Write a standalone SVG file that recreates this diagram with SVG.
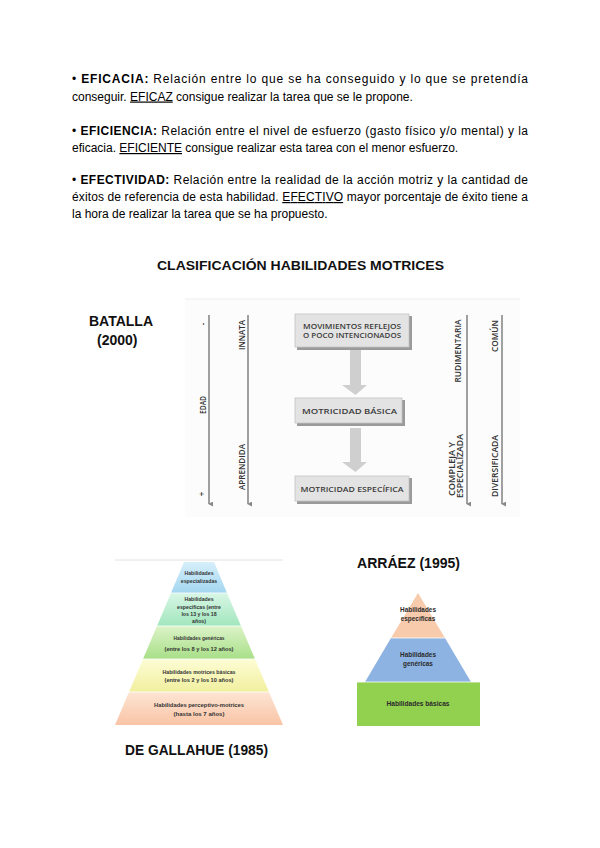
<svg xmlns="http://www.w3.org/2000/svg" width="600" height="848" viewBox="0 0 600 848">
<style>
.p{font-family:"Liberation Sans",Arial,sans-serif;font-size:12px;fill:#000}
.b{font-weight:bold}
.u{text-decoration:underline}
.h{font-family:"Liberation Sans",Arial,sans-serif;font-weight:bold;fill:#111}
.bx{font-family:"Open Sans","DejaVu Sans",sans-serif;font-size:7.8px;fill:#3a3a3a;text-anchor:middle;font-weight:600}
.rl{font-family:"Open Sans","DejaVu Sans",sans-serif;font-size:8px;fill:#333;text-anchor:middle;font-weight:600}
.vl{stroke:#888;stroke-width:1.6;fill:none}
.box{fill:#e3e3e3;stroke:#c4c4c4;stroke-width:0.8}
.sh{fill:#9a9a9a}
.ar{fill:#cfcfcf}
.g{font-family:"Liberation Sans",Arial,sans-serif;font-weight:bold;font-size:5.2px;fill:#333;text-anchor:middle}
.a{font-family:"Liberation Sans",Arial,sans-serif;font-weight:bold;font-size:6.4px;fill:#2a2a2a;text-anchor:middle}
.sep{stroke:#ffffff;stroke-width:0.8}
</style>
<defs>
<marker id="ah" viewBox="0 0 6 6" refX="3" refY="5" markerWidth="5" markerHeight="5" orient="auto-start-reverse" markerUnits="userSpaceOnUse">
<path d="M0,0 L3,6 L6,0 Z" fill="#888"/>
</marker>
<linearGradient id="g1" x1="0" y1="0" x2="0" y2="1"><stop offset="0" stop-color="#d6effb"/><stop offset="1" stop-color="#a3d6f0"/></linearGradient>
<linearGradient id="g2" x1="0" y1="0" x2="0" y2="1"><stop offset="0" stop-color="#d8f6e6"/><stop offset="1" stop-color="#a2e6bd"/></linearGradient>
<linearGradient id="g3" x1="0" y1="0" x2="0" y2="1"><stop offset="0" stop-color="#dcf3c8"/><stop offset="1" stop-color="#a8df88"/></linearGradient>
<linearGradient id="g4" x1="0" y1="0" x2="0" y2="1"><stop offset="0" stop-color="#fdfdd6"/><stop offset="1" stop-color="#f1ef9e"/></linearGradient>
<linearGradient id="g5" x1="0" y1="0" x2="0" y2="1"><stop offset="0" stop-color="#fde5d3"/><stop offset="1" stop-color="#f9c4a6"/></linearGradient>
</defs>
<rect width="600" height="848" fill="#ffffff"/>

<g id="texto">
<text class="p" x="72" y="83" textLength="456" lengthAdjust="spacing">• <tspan class="b">EFICACIA:</tspan> Relación entre lo que se ha conseguido y lo que se pretendía</text>
<text class="p" x="72" y="100.5">conseguir. <tspan class="u">EFICAZ</tspan> consigue realizar la tarea que se le propone.</text>
<text class="p" x="72" y="134.5" textLength="456" lengthAdjust="spacing">• <tspan class="b">EFICIENCIA:</tspan> Relación entre el nivel de esfuerzo (gasto físico y/o mental) y la</text>
<text class="p" x="72" y="152">eficacia. <tspan class="u">EFICIENTE</tspan> consigue realizar esta tarea con el menor esfuerzo.</text>
<text class="p" x="72" y="183.5" textLength="456" lengthAdjust="spacing">• <tspan class="b">EFECTIVIDAD:</tspan> Relación entre la realidad de la acción motriz y la cantidad de</text>
<text class="p" x="72" y="201" textLength="456" lengthAdjust="spacing">éxitos de referencia de esta habilidad. <tspan class="u">EFECTIVO</tspan> mayor porcentaje de éxito tiene a</text>
<text class="p" x="72" y="218">la hora de realizar la tarea que se ha propuesto.</text>
</g>

<g id="titulo">
<text class="h" x="157" y="270" font-size="13" textLength="287" lengthAdjust="spacingAndGlyphs">CLASIFICACIÓN HABILIDADES MOTRICES</text>
</g>

<g id="batalla-titulo">
<text class="h" x="89" y="326" font-size="14">BATALLA</text>
<text class="h" x="97" y="345" font-size="14">(2000)</text>
</g>

<g id="batalla">
<rect x="185" y="299" width="335" height="218" fill="#fcfcfc"/>
<line x1="185" y1="299" x2="520" y2="299" stroke="#ededed" stroke-width="1"/>
</g>

<g id="connectors">
<line class="vl" x1="209" y1="315" x2="209" y2="504" marker-end="url(#ah)"/>
<line class="vl" x1="248" y1="315" x2="248" y2="504" marker-end="url(#ah)"/>
<line class="vl" x1="467" y1="315" x2="467" y2="504" marker-end="url(#ah)"/>
<line class="vl" x1="502" y1="315" x2="502" y2="504" marker-end="url(#ah)"/>
<path class="ar" d="M350,350 H361 V385 H367 L355.5,395 L342,385 H350 Z"/>
<path class="ar" d="M350,428 H361 V462 H367 L355.5,472 L342,462 H350 Z"/>
</g>

<g id="eje-edad">
<text class="rl" transform="rotate(-90 206 324)" x="206" y="324" font-size="9">-</text>
<text class="rl" transform="rotate(-90 206 405)" x="206" y="405" textLength="18" lengthAdjust="spacingAndGlyphs">EDAD</text>
<text class="rl" transform="rotate(-90 205 494)" x="205" y="494" font-size="9">+</text>
</g>
<g id="eje-innata">
<text class="rl" transform="rotate(-90 245 335)" x="245" y="335" textLength="30" lengthAdjust="spacingAndGlyphs">INNATA</text>
<text class="rl" transform="rotate(-90 245 467)" x="245" y="467" textLength="46" lengthAdjust="spacingAndGlyphs">APRENDIDA</text>
</g>

<g id="box-reflejos">
<rect class="sh" x="297" y="316" width="115" height="34"/>
<rect class="box" x="295" y="314" width="114" height="33"/>
<text class="bx" x="352" y="329" textLength="98" lengthAdjust="spacingAndGlyphs">MOVIMIENTOS REFLEJOS</text>
<text class="bx" x="352" y="338" textLength="98" lengthAdjust="spacingAndGlyphs">O POCO INTENCIONADOS</text>
</g>
<g id="box-basica">
<rect class="sh" x="297" y="400" width="108" height="26"/>
<rect class="box" x="295" y="398" width="107" height="25"/>
<text class="bx" x="349.5" y="414" textLength="95" lengthAdjust="spacingAndGlyphs">MOTRICIDAD BÁSICA</text>
</g>
<g id="box-especifica">
<rect class="sh" x="297" y="478" width="115" height="26"/>
<rect class="box" x="295" y="476" width="114" height="25"/>
<text class="bx" x="352" y="492" textLength="103" lengthAdjust="spacingAndGlyphs">MOTRICIDAD ESPECÍFICA</text>
</g>

<g id="eje-rudimentaria">
<text class="rl" transform="rotate(-90 461 351)" x="461" y="351" textLength="63" lengthAdjust="spacingAndGlyphs">RUDIMENTARIA</text>
<text class="rl" transform="rotate(-90 455 469)" x="455" y="469" textLength="54" lengthAdjust="spacingAndGlyphs">COMPLEJA Y</text>
<text class="rl" transform="rotate(-90 463 466)" x="463" y="466" textLength="64" lengthAdjust="spacingAndGlyphs">ESPECIALIZADA</text>
</g>
<g id="eje-comun">
<text class="rl" transform="rotate(-90 498 336)" x="498" y="336" textLength="32" lengthAdjust="spacingAndGlyphs">COMÚN</text>
<text class="rl" transform="rotate(-90 498 466)" x="498" y="466" textLength="62" lengthAdjust="spacingAndGlyphs">DIVERSIFICADA</text>
</g>

<g id="gallahue">
<line x1="115" y1="560" x2="283" y2="560" stroke="#e2e2e2" stroke-width="1"/>
<polygon points="184,562 214,562 227,593 171,593" fill="url(#g1)"/>
<polygon points="171,593 227,593 241,626 157,626" fill="url(#g2)"/>
<polygon points="157,626 241,626 255,659 143,659" fill="url(#g3)"/>
<polygon points="143,659 255,659 269,692 129,692" fill="url(#g4)"/>
<polygon points="129,692 269,692 283,725 115,725" fill="url(#g5)"/>
<line class="sep" x1="171" y1="593" x2="227" y2="593"/>
<line class="sep" x1="157" y1="626" x2="241" y2="626"/>
<line class="sep" x1="143" y1="659" x2="255" y2="659"/>
<line class="sep" x1="129" y1="692" x2="269" y2="692"/>
</g>
<g id="gallahue-especializadas">
<text class="g" x="199" y="575">Habilidades</text>
<text class="g" x="199" y="583">especializadas</text>
</g>
<g id="gallahue-especificas">
<text class="g" x="199" y="601">Habilidades</text>
<text class="g" x="199" y="608.5">específicas (entre</text>
<text class="g" x="199" y="616">los 13 y los 18</text>
<text class="g" x="199" y="623">años)</text>
</g>
<g id="gallahue-genericas">
<text class="g" x="199" y="640" textLength="51" lengthAdjust="spacingAndGlyphs">Habilidades genéricas</text>
<text class="g" x="199" y="651" textLength="69" lengthAdjust="spacingAndGlyphs">(entre los 8 y los 12 años)</text>
</g>
<g id="gallahue-basicas">
<text class="g" x="199" y="674" textLength="73" lengthAdjust="spacingAndGlyphs">Habilidades motrices básicas</text>
<text class="g" x="199" y="682" textLength="69" lengthAdjust="spacingAndGlyphs">(entre los 2 y los 10 años)</text>
</g>
<g id="gallahue-perceptivo">
<text class="g" x="199" y="707" textLength="90" lengthAdjust="spacingAndGlyphs">Habilidades perceptivo-motrices</text>
<text class="g" x="199" y="716" textLength="51" lengthAdjust="spacingAndGlyphs">(hasta los 7 años)</text>
</g>
<g id="gallahue-titulo">
<text class="h" x="125" y="755" font-size="14" textLength="143" lengthAdjust="spacingAndGlyphs">DE GALLAHUE (1985)</text>
</g>

<g id="arraez-titulo">
<text class="h" x="357" y="568" font-size="14" textLength="103" lengthAdjust="spacingAndGlyphs">ARRÁEZ (1995)</text>
</g>
<g id="arraez">
<polygon points="418,593 445,638 391,638" fill="#f8cbad"/>
<polygon points="391,638 445,638 471,682 365,682" fill="#8db3e2"/>
<rect x="357" y="682" width="123" height="44" fill="#92d050"/>
<line class="sep" x1="391" y1="638" x2="445" y2="638"/>
<line class="sep" x1="357" y1="682" x2="480" y2="682"/>
</g>
<g id="arraez-especificas">
<text class="a" x="418" y="612">Habilidades</text>
<text class="a" x="418" y="621">específicas</text>
</g>
<g id="arraez-genericas">
<text class="a" x="418" y="657">Habilidades</text>
<text class="a" x="418" y="666">genéricas</text>
</g>
<g id="arraez-basicas">
<text class="a" x="418" y="706" textLength="63" lengthAdjust="spacingAndGlyphs">Habilidades básicas</text>
</g>
</svg>
